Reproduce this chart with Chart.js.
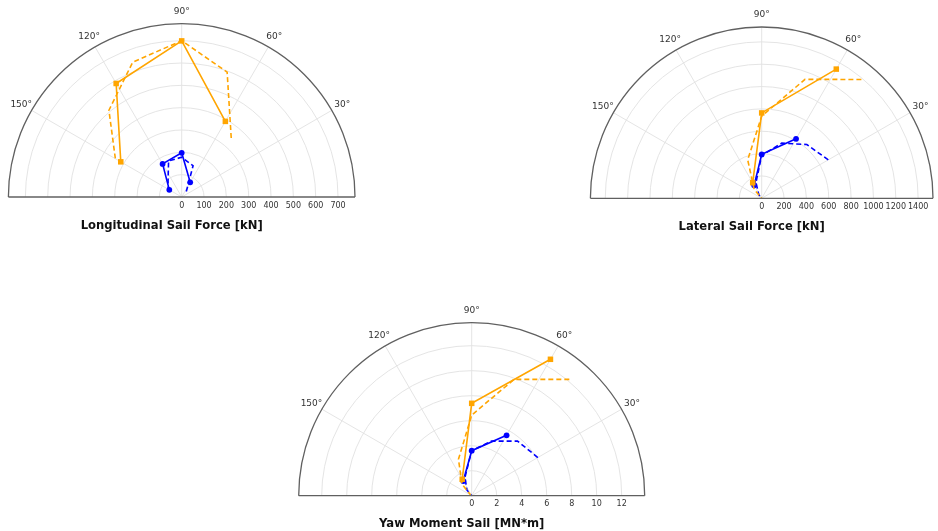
<!DOCTYPE html>
<html>
<head>
<meta charset="utf-8">
<script src="https://cdn.jsdelivr.net/npm/chart.js@4.4.1/dist/chart.umd.min.js"></script>
<style>
  html, body { margin: 0; padding: 0; background: #ffffff; }
  body { position: relative; width: 938px; height: 531px; overflow: hidden; }
  canvas { position: absolute; }
</style>
</head>
<body>
<canvas id="lon"></canvas>
<canvas id="lat"></canvas>
<canvas id="yaw"></canvas>
<script>
// Heading angles (degrees) of the two curve families
const solidAngles = [60, 90, 120, 150];
const dashAngles = [30, 50, 70, 90, 110, 130, 150];

// Longitudinal sail force [kN]
const lonSolidOrange = [391, 699, 587, 315];
const lonSolidBlue = [76, 198, 171, 64];
const lonDashOrange = [null, 345, 595, 700, 642, 507, 343];
const lonDashBlue = [null, 32, 149, 178, 172, 95, 70];
const lonTicks = [0, 100, 200, 300, 400, 500, 600, 700];
const lonMax = 776;

// Lateral sail force [kN]
const latSolidOrange = [1335, 764, 161, null];
const latSolidBlue = [615, 393, 135, null];
const latDashOrange = [null, 1388, 1133, 735, 366, 105, 0];
const latDashBlue = [688, 628, 525, 385, 150, 40, 0];
const latTicks = [0, 200, 400, 600, 800, 1000, 1200, 1400];
const latMax = 1533;

// Yaw moment [MN*m]
const yawSolidOrange = [12.6, 7.39, 1.52, null];
const yawSolidBlue = [5.58, 3.6, 1.35, null];
const yawDashOrange = [null, 12.15, 9.9, 6.45, 3.1, 1.2, 0.1];
const yawDashBlue = [6.11, 5.7, 4.65, 3.6, 1.57, 0.6, 0];
const yawTicks = [0, 2, 4, 6, 8, 10, 12];
const yawMax = 13.84;

const angleTicks = [30, 60, 90, 120, 150];

const ORANGE = '#FFA500';
const BLUE = '#0000FF';

function toXY(angles, radii) {
  const pts = [];
  angles.forEach((a, i) => {
    const r = radii[i];
    if (r === null || r === undefined) return;
    const t = a * Math.PI / 180;
    pts.push({ x: r * Math.cos(t), y: r * Math.sin(t) });
  });
  return pts;
}

function lineSet(data, color, dashed, marker) {
  return {
    data: data,
    showLine: true,
    borderColor: color,
    backgroundColor: color,
    borderWidth: 1.6,
    borderDash: dashed ? [5, 3] : [],
    pointRadius: marker ? (marker === 'rect' ? 3.9 : 2.9) : 0,
    pointStyle: marker || 'circle',
    pointBackgroundColor: color,
    pointBorderColor: color,
    pointBorderWidth: 0,
    tension: 0,
    clip: false
  };
}

// Half-polar frame: grid circles, spokes, outer arc, baseline and labels
const polarFrame = {
  id: 'polarFrame',
  beforeDatasetsDraw(chart, args, opts) {
    const ctx = chart.ctx;
    const xs = chart.scales.x, ys = chart.scales.y;
    const cx = xs.getPixelForValue(0), cy = ys.getPixelForValue(0);
    const pxPer = xs.getPixelForValue(1) - cx;
    const R = xs.getPixelForValue(opts.rmax) - cx;
    ctx.save();
    ctx.strokeStyle = '#e1e1e1';
    ctx.lineWidth = 0.9;
    opts.ticks.forEach(v => {
      if (v <= 0) return;
      ctx.beginPath();
      ctx.arc(cx, cy, v * pxPer, Math.PI, 2 * Math.PI);
      ctx.stroke();
    });
    angleTicks.forEach(a => {
      const t = a * Math.PI / 180;
      ctx.beginPath();
      ctx.moveTo(cx, cy);
      ctx.lineTo(cx + R * Math.cos(t), cy - R * Math.sin(t));
      ctx.stroke();
    });
    ctx.restore();
  },
  afterDatasetsDraw(chart, args, opts) {
    const ctx = chart.ctx;
    const xs = chart.scales.x, ys = chart.scales.y;
    const cx = xs.getPixelForValue(0), cy = ys.getPixelForValue(0);
    const pxPer = xs.getPixelForValue(1) - cx;
    const R = xs.getPixelForValue(opts.rmax) - cx;
    ctx.save();
    ctx.strokeStyle = '#606060';
    ctx.lineWidth = 1.3;
    ctx.beginPath();
    ctx.arc(cx, cy, R, Math.PI, 2 * Math.PI);
    ctx.stroke();
    ctx.beginPath();
    ctx.moveTo(cx - R, cy);
    ctx.lineTo(cx + R, cy);
    ctx.stroke();

    ctx.fillStyle = '#333333';
    ctx.textAlign = 'center';
    ctx.textBaseline = 'middle';
    ctx.font = '9px "DejaVu Sans"';
    angleTicks.forEach(a => {
      const t = a * Math.PI / 180;
      const rr = R + 12;
      ctx.fillText(a + '°', cx + rr * Math.cos(t), cy - rr * Math.sin(t));
    });
    ctx.font = '8px "DejaVu Sans"';
    opts.ticks.forEach(v => {
      ctx.fillText(String(v), cx + v * pxPer, cy + 8.5);
    });
    ctx.fillStyle = '#111111';
    ctx.font = 'bold 11.6px "DejaVu Sans"';
    ctx.fillText(opts.title, cx - 10, cy + 28.5);
    ctx.restore();
  }
};

function makePolar(id, box, cx, cy, R, rmax, ticks, title, sets) {
  const cv = document.getElementById(id);
  cv.width = box.w; cv.height = box.h;
  cv.style.left = box.x + 'px'; cv.style.top = box.y + 'px';
  cv.style.width = box.w + 'px'; cv.style.height = box.h + 'px';
  const padding = {
    left: cx - R - box.x,
    top: cy - R - box.y,
    right: box.x + box.w - (cx + R),
    bottom: box.y + box.h - cy
  };
  new Chart(cv.getContext('2d'), {
    type: 'scatter',
    data: { datasets: sets },
    options: {
      responsive: false,
      maintainAspectRatio: false,
      animation: false,
      devicePixelRatio: 1,
      layout: { padding: padding },
      scales: {
        x: { type: 'linear', min: -rmax, max: rmax, display: false },
        y: { type: 'linear', min: 0, max: rmax, display: false }
      },
      plugins: {
        legend: { display: false },
        tooltip: { enabled: false },
        polarFrame: { rmax: rmax, ticks: ticks, title: title }
      }
    },
    plugins: [polarFrame]
  });
}

makePolar('lon', { x: 0, y: 0, w: 369, h: 240 }, 181.7, 197, 173.3, lonMax, lonTicks,
  'Longitudinal Sail Force [kN]', [
    lineSet(toXY(solidAngles, lonSolidOrange), ORANGE, false, 'rect'),
    lineSet(toXY(dashAngles, lonDashOrange), ORANGE, true, null),
    lineSet(toXY(solidAngles, lonSolidBlue), BLUE, false, 'circle'),
    lineSet(toXY(dashAngles, lonDashBlue), BLUE, true, null)
  ]);

makePolar('lat', { x: 575, y: 0, w: 363, h: 240 }, 761.7, 198.3, 171.3, latMax, latTicks,
  'Lateral Sail Force [kN]', [
    lineSet(toXY(solidAngles, latSolidOrange), ORANGE, false, 'rect'),
    lineSet(toXY(dashAngles, latDashOrange), ORANGE, true, null),
    lineSet(toXY(solidAngles, latSolidBlue), BLUE, false, 'circle'),
    lineSet(toXY(dashAngles, latDashBlue), BLUE, true, null)
  ]);

makePolar('yaw', { x: 285, y: 300, w: 375, h: 231 }, 471.7, 495.7, 173, yawMax, yawTicks,
  'Yaw Moment Sail [MN*m]', [
    lineSet(toXY(solidAngles, yawSolidOrange), ORANGE, false, 'rect'),
    lineSet(toXY(dashAngles, yawDashOrange), ORANGE, true, null),
    lineSet(toXY(solidAngles, yawSolidBlue), BLUE, false, 'circle'),
    lineSet(toXY(dashAngles, yawDashBlue), BLUE, true, null)
  ]);
</script>
</body>
</html>
